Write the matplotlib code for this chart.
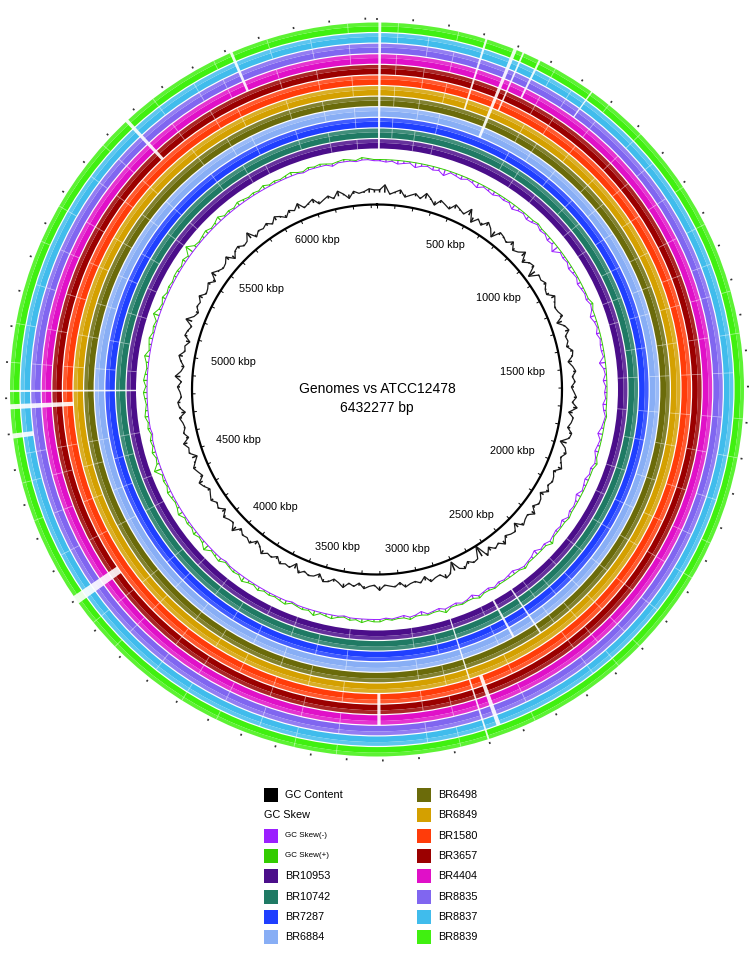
import matplotlib.pyplot as plt
import numpy as np
from matplotlib.colors import to_rgb
from matplotlib.patches import Rectangle

plt.rcParams['font.family'] = ['Liberation Sans', 'DejaVu Sans']

# ---------------------------------------------------------------------------
#       DATA
# ---------------------------------------------------------------------------
genome_bp = 6432277
genome_kbp = genome_bp / 1000.0

# rings, inner -> outer
ring_names = ['BR10953', 'BR10742', 'BR7287', 'BR6884', 'BR6498', 'BR6849',
              'BR1580', 'BR3657', 'BR4404', 'BR8835', 'BR8837', 'BR8839']
ring_colors = ['#4b0e8a', '#1f7a64', '#1f3fff', '#88aef5', '#6b6b0a', '#d4a000',
               '#ff3c0a', '#9b0000', '#e010c8', '#8066f0', '#40bcec', '#40f010']

# GC content deviation (240 windows over the genome)
gc_dev = [2, 6, -1, 1, 3, -2, 0, 2, -1, 4, 1, -3, 2, 0, -2, 3, 1, -1, 5, -4,
          1, -2, 3, 0, -5, 2, 1, -1, 3, -2, 0, 4, -3, 1, 2, -6, 1, 0, 2, -1,
          -2, 3, 1, -1, 0, 2, -4, 1, 3, -1, 0, -2, 2, 1, -3, 0, 2, -1, 1, -2,
          0, 2, -1, 3, -3, 1, 0, -2, 2, 1, -5, 0, 2, -1, 1, 3, -2, 0, 1, -1,
          2, -3, 0, 1, -2, 3, -1, 0, 2, -4, 1, 0, -2, 3, -1, 1, -3, 2, -9, 0,
          1, -2, 2, 0, -7, 1, 3, -1, 0, 2, -3, 1, -1, 0, 2, -2, 1, 0, -1, 3,
          -1, 0, 2, -2, 1, -1, 3, 0, -2, 1, 2, -3, 0, 1, -1, 2, -4, 1, 0, 2,
          -2, 1, 0, 3, -1, -3, 2, 0, 1, -2, 4, -1, 0, 2, -3, 1, -1, 2, 0, -2,
          1, 3, -2, 0, 2, -1, -4, 1, 0, 3, -2, 1, -1, 0, 2, -3, 1, 2, -1, 0,
          2, -1, 4, 0, -2, 1, 3, -1, 0, -3, 2, 1, -1, 5, 0, -2, 1, 0, 3, -1,
          0, 2, -2, 4, 1, -1, 0, 3, -3, 1, 2, -1, 0, 5, -2, 1, 0, 2, -1, 3,
          1, -2, 2, 0, 4, -1, 1, 3, -2, 0, 2, -1, 4, 1, -3, 2, 0, 1, 3, 2]

# GC skew (same windows)
gc_skew = [-1, -2, -1, -3, -2, -1, -4, -2, -1, -3, -2, -5, -1, -2, -3, -1, -2, -4, -1, -2,
           -3, -1, -2, -1, -4, -2, -1, -3, -2, 1, -2, -1, -3, -2, -6, -1, -2, -1, -3, -2,
           -1, -3, -2, -1, -2, 2, -1, -4, -2, -1, -3, -1, -2, -2, -1, -5, -2, -1, -3, -1,
           -2, -1, -3, -2, 1, -1, -2, -4, -1, -2, -3, -1, 2, -2, -1, -3, -2, -1, -4, -2,
           -1, -2, 1, -3, -1, -2, -1, 3, -2, -1, -4, -2, -1, 2, -1, -3, -2, -1, -2, 1,
           -2, -1, 2, -3, -1, 1, -2, -1, 3, -2, -1, 1, -3, -1, 2, -2, -1, 1, -1, 2,
           2, 1, 3, 1, 2, -1, 1, 3, 2, 1, 4, 1, 2, 1, -1, 3, 2, 1, 2, 1,
           3, 1, 2, 4, 1, 2, 1, -1, 3, 2, 1, 5, 2, 1, 3, 1, 2, 1, 4, 2,
           1, 2, 3, 1, 2, 1, 6, 2, 1, 3, 1, 2, -1, 2, 1, 3, 2, 1, 2, 3,
           1, 3, 2, 1, 2, 4, 1, 2, 3, 1, 2, 1, 5, 2, 1, 3, 1, 2, 1, 2,
           2, 1, 3, 1, 7, 2, 1, 2, 3, 1, 2, 4, 1, 2, 1, 3, 2, 1, 2, 1,
           3, 1, 2, 1, 2, 3, 1, -1, 2, 1, 2, 1, -2, 1, 2, 1, -1, 2, 1, -1]

# regions missing in the query genomes: centre (kbp), width (kbp), first ring, last ring
gap_kbp = [8, 310, 395, 420, 470, 640, 2610, 2700, 2860, 2900, 3210, 4200, 4694, 4776, 4820, 5665, 6014]
gap_width = [8, 6, 10, 5, 6, 4, 6, 8, 12, 5, 10, 25, 14, 14, 6, 10, 8]
gap_first = [0, 5, 3, 6, 8, 9, 0, 0, 6, 0, 6, 7, 10, 6, 0, 7, 8]
gap_last = [11, 11, 11, 11, 11, 11, 4, 3, 10, 11, 8, 11, 11, 11, 11, 11, 11]

# thin partial-identity lines crossing the rings (kbp)
thin_kbp = [60, 150, 230, 520, 590, 700, 820, 905, 1010, 1130, 1240, 1330, 1450, 1560, 1690,
            1800, 1930, 2050, 2160, 2290, 2400, 2480, 2550, 2760, 2980, 3070, 3330, 3450, 3560,
            3680, 3790, 3900, 4030, 4120, 4330, 4450, 4560, 4640, 4900, 5010, 5130, 5250,
            5360, 5480, 5570, 5760, 5880, 5960, 6120, 6240, 6350]

tick_labels_kbp = [500, 1000, 1500, 2000, 2500, 3000, 3500, 4000, 4500, 5000, 5500, 6000]

legend_col1 = ['GC Content', 'GC Skew', 'GC Skew(-)', 'GC Skew(+)'] + ring_names[:4]
legend_col2 = ring_names[4:]
skew_neg_color = '#9b1fff'
skew_pos_color = '#33cc00'

# ---------------------------------------------------------------------------
#       PLOT
# ---------------------------------------------------------------------------
W, H = 756, 958
cx, cy, R = 377, 389.5, 378

fig = plt.figure(figsize=(W / 100, H / 100), dpi=100)
ax = fig.add_axes([(cx - R) / W, (H - cy - R) / H, 2 * R / W, 2 * R / H], projection='polar')
ax.set_theta_zero_location('N')
ax.set_theta_direction(-1)
ax.set_ylim(0, R)
ax.set_axis_off()


def to_theta(kbp):
    return np.asarray(kbp, dtype=float) / genome_kbp * 2 * np.pi


ring_in0, ring_pitch, ring_thick = 241.0, 10.6, 9.4

# rings
for i, col in enumerate(ring_colors):
    r0 = ring_in0 + i * ring_pitch
    light = tuple(0.85 * np.array(to_rgb(col)) + 0.15)
    ax.bar(np.pi, ring_thick * 0.6, width=2 * np.pi, bottom=r0, color=col, lw=0)
    ax.bar(np.pi, ring_thick * 0.4, width=2 * np.pi, bottom=r0 + ring_thick * 0.6, color=light, lw=0)

# thin lines through the rings
for k, t in enumerate(to_theta(thin_kbp)):
    for i in range(len(ring_colors)):
        if (k + i) % 3 == 0:
            continue
        r0 = ring_in0 + i * ring_pitch
        ax.vlines(t, r0, r0 + ring_thick, colors='white', lw=0.6, alpha=0.5)

# gaps
for g, w, a, b in zip(gap_kbp, gap_width, gap_first, gap_last):
    r0 = ring_in0 + a * ring_pitch - 0.6
    r1 = ring_in0 + b * ring_pitch + ring_thick + 0.6
    ax.bar(to_theta(g), r1 - r0, width=to_theta(w), bottom=r0, color='white', lw=0, alpha=0.9)

# GC skew
n = len(gc_skew)
th = to_theta((np.arange(n) + 0.5) * genome_kbp / n)
sk = np.asarray(gc_skew, dtype=float)
skew_base = 230.0
skew_cols = np.where(sk >= 0, skew_pos_color, skew_neg_color)
ax.vlines(th, skew_base, skew_base + sk * 1.2, colors=skew_cols, lw=0.9)
thc = np.append(th, th[0] + 2 * np.pi)
skc = np.append(sk, sk[0])
ax.plot(thc, skew_base + np.clip(skc, None, 0) * 1.2, color=skew_neg_color, lw=0.7)
ax.plot(thc, skew_base + np.clip(skc, 0, None) * 1.2, color=skew_pos_color, lw=0.7)

# GC content
gc = np.asarray(gc_dev, dtype=float)
gc_base = 197.0
ax.vlines(th, gc_base, gc_base + gc * 1.3, colors='#111111', lw=1.1)
ax.plot(thc, gc_base + np.append(gc, gc[0]) * 1.3, color='#1a1a1a', lw=0.9)

# backbone circle + ticks
full = np.linspace(0, 2 * np.pi, 721)
ax.plot(full, np.full_like(full, 185.0), color='black', lw=1.6)
minor = to_theta(np.arange(0, genome_kbp, 100))
ax.vlines(minor, 181.5, 185, colors='black', lw=0.7)
ax.vlines(minor, 370, 372, colors='#333333', lw=1.2)

# position labels, pushed inward by half their size
half_w, half_h = 22 * 0.72, 4.5 * 0.72
for k in tick_labels_kbp:
    t = to_theta(k)
    ax.annotate(f'{k} kbp', xy=(t, 168), xytext=(-half_w * np.sin(t), -half_h * np.cos(t)),
                textcoords='offset points', ha='center', va='center', fontsize=7.8)

fig.text(cx / W, 1 - 389 / H, 'Genomes vs ATCC12478', ha='center', va='center', fontsize=10)
fig.text(cx / W, 1 - 408 / H, f'{genome_bp} bp', ha='center', va='center', fontsize=10)

# legend
lax = fig.add_axes([0, 0, 1, 1])
lax.set_xlim(0, W)
lax.set_ylim(H, 0)
lax.set_axis_off()
lax.patch.set_visible(False)

col1_colors = ['black', None, skew_neg_color, skew_pos_color] + ring_colors[:4]
row_y = 795 + 20.3 * np.arange(8)
for name, col, y in zip(legend_col1, col1_colors, row_y):
    if col is None:
        lax.text(264, y, name, ha='left', va='center', fontsize=7.8)
        continue
    lax.add_patch(Rectangle((264, y - 7), 14, 14, color=col, lw=0))
    fs = 5.8 if name.startswith('GC Skew(') else 7.8
    lax.text(285, y, name, ha='left', va='center', fontsize=fs)
for name, col, y in zip(legend_col2, ring_colors[4:], row_y):
    lax.add_patch(Rectangle((417, y - 7), 14, 14, color=col, lw=0))
    lax.text(438, y, name, ha='left', va='center', fontsize=7.8)

fig.savefig('out.png', dpi=100)
